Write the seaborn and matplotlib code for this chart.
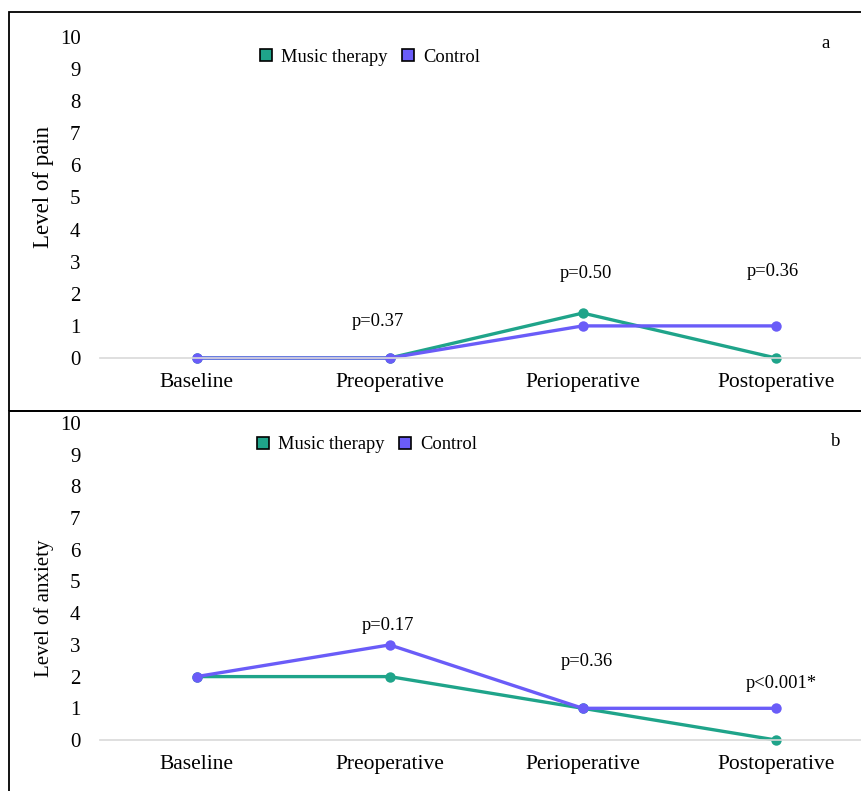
import matplotlib
matplotlib.use("Agg")
import matplotlib.pyplot as plt
import seaborn as sns
import pandas as pd
from matplotlib.lines import Line2D
from matplotlib.patches import Rectangle

# ---- data ----
stages = ["Baseline", "Preoperative", "Perioperative", "Postoperative"]
groups = ["Music therapy", "Control"]
pain_music = [0, 0, 1.4, 0]
pain_control = [0, 0, 1, 1]
anx_music = [2, 2, 1, 0]
anx_control = [2, 3, 1, 1]
pain_pvals = ["", "p=0.37", "p=0.50", "p=0.36"]
anx_pvals = ["", "p=0.17", "p=0.36", "p<0.001*"]
yticks = list(range(0, 11))

colors = {"Music therapy": "#1fa48a", "Control": "#6a5cf8"}

sns.set_theme(style="white")
plt.rcParams["font.family"] = ["Liberation Serif", "DejaVu Serif"]
plt.rcParams["text.color"] = "black"
plt.rcParams["xtick.color"] = "black"
plt.rcParams["ytick.color"] = "black"
plt.rcParams["axes.labelcolor"] = "black"

W, H = 862, 791
fig = plt.figure(figsize=(W / 100, H / 100), dpi=100)


def fx(px):
    return px / W


def fy(py):
    return 1 - py / H


def make_df(music, control):
    rows = []
    for g, vals in zip(groups, [music, control]):
        for s, v in zip(stages, vals):
            rows.append({"stage": s, "group": g, "value": v})
    return pd.DataFrame(rows)


def panel(ax, music, control, ylabel, ylab_size, ylab_y, pvals, ppos, letter, letter_xy, leg_xy):
    df = make_df(music, control)
    df["x"] = df["stage"].map({s: i for i, s in enumerate(stages)})
    sns.lineplot(data=df, x="x", y="value", hue="group", hue_order=groups,
                 palette=colors, marker="o", markersize=7.5, markeredgewidth=0,
                 linewidth=2.4, ax=ax, legend=False, clip_on=False, sort=False)
    ax.set_xlim(-0.5, 3.446)
    ax.set_ylim(0, 10)
    ax.set_xticks(range(len(stages)))
    ax.set_xticklabels(stages, fontsize=15.5, color="black")
    ax.set_yticks(yticks)
    ax.set_yticklabels([str(t) for t in yticks], fontsize=15, color="black")
    ax.tick_params(axis="x", length=0, pad=11)
    ax.tick_params(axis="y", length=0, pad=14)
    for sp in ["top", "right", "left"]:
        ax.spines[sp].set_visible(False)
    ax.spines["bottom"].set_color("#d9d9d9")
    ax.spines["bottom"].set_linewidth(1.2)
    ax.set_xlabel("")
    ax.set_ylabel("")
    fig.text(fx(44), fy(ylab_y), ylabel, rotation=90, ha="center", va="center",
             fontsize=ylab_size, color="black")
    for txt, (px, py) in zip(pvals, ppos):
        if txt:
            fig.text(fx(px), fy(py), txt, ha="center", va="center", fontsize=13.3,
                     color="black")
    fig.text(fx(letter_xy[0]), fy(letter_xy[1]), letter, ha="center", va="center",
             fontsize=13.5, color="black")
    handles = [Line2D([], [], linestyle="none", marker="s", markersize=9,
                      markerfacecolor=colors[g], markeredgecolor="black",
                      markeredgewidth=1.2) for g in groups]
    leg = fig.legend(handles, groups, loc="center left",
                     bbox_to_anchor=(fx(leg_xy[0]), fy(leg_xy[1])), ncol=2,
                     frameon=False, fontsize=13.3, handlelength=0.8,
                     handletextpad=0.4, columnspacing=0.7, borderpad=0,
                     borderaxespad=0)
    for t in leg.get_texts():
        t.set_color("black")


ax1 = fig.add_axes([fx(100), fy(358), fx(862) - fx(100), fy(37) - fy(358)])
panel(ax1, pain_music, pain_control, "Level of pain", 16.5, 187, pain_pvals,
      [(0, 0), (378, 322), (586, 273), (773, 271)], "a", (826, 43), (259, 57))

ax2 = fig.add_axes([fx(100), fy(740), fx(862) - fx(100), fy(423) - fy(740)])
panel(ax2, anx_music, anx_control, "Level of anxiety", 15, 608, anx_pvals,
      [(0, 0), (388, 626), (587, 662), (781, 684)], "b", (836, 441), (256, 445))

# panel frames
fig.add_artist(Rectangle((fx(9.5), fy(410.5)), 1.2, fy(12) - fy(410.5),
                         transform=fig.transFigure, fill=False,
                         edgecolor="black", linewidth=1.3))
fig.add_artist(Rectangle((fx(9.5), fy(820)), 1.2, fy(410.5) - fy(820),
                         transform=fig.transFigure, fill=False,
                         edgecolor="black", linewidth=1.3))

fig.savefig("out.png", dpi=100)
